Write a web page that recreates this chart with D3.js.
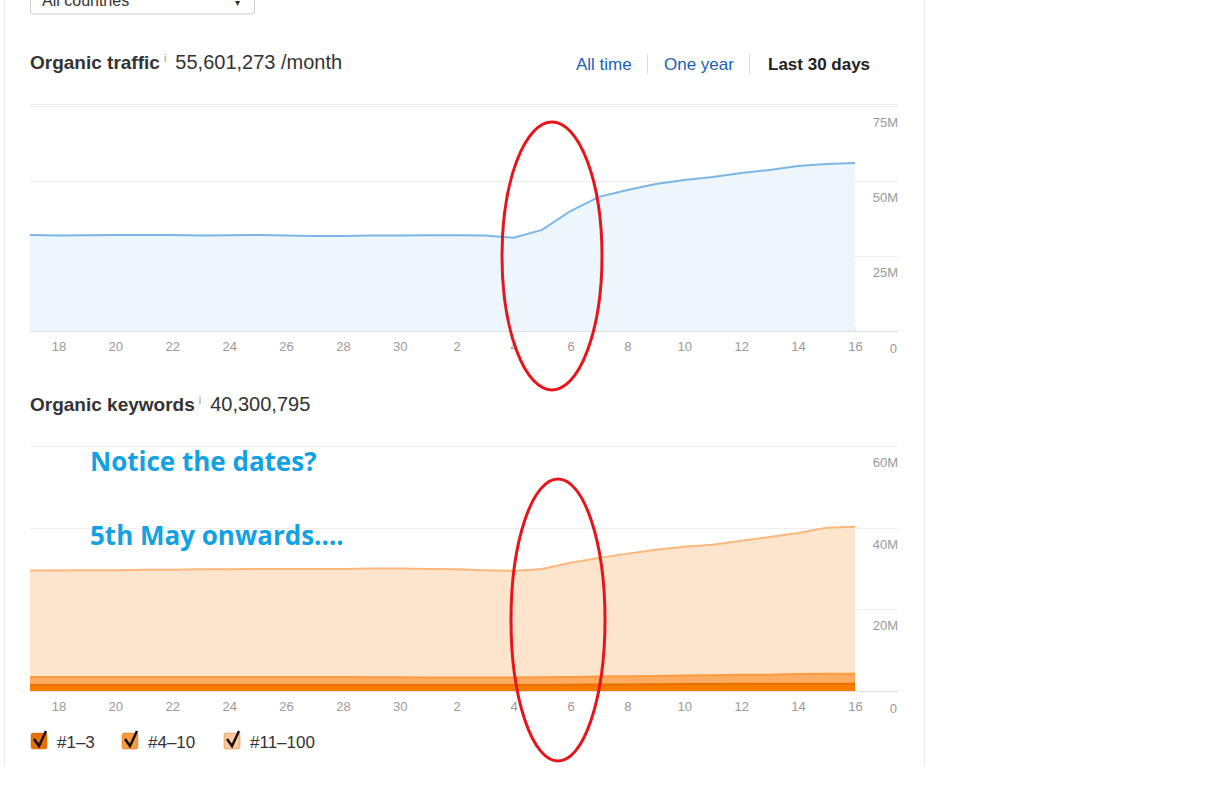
<!DOCTYPE html>
<html><head><meta charset="utf-8">
<script src="https://cdn.jsdelivr.net/npm/d3@7"></script>
<style>body{margin:0;background:#fff;font-family:Arial,"Liberation Sans",sans-serif}</style>
</head><body><svg id="c" width="1228" height="786"></svg>
<script>
// Dates: Apr 17 .. May 16
const days = d3.range(0,30).map(i => new Date(2018,3,17+i));
const tickLabels = ["18","20","22","24","26","28","30","2","4","6","8","10","12","14","16"];
const traffic = [32,31.8,31.9,32,32,32,31.8,31.9,32,31.8,31.7,31.7,31.8,31.8,31.9,31.9,31.8,31.1,33.7,40,44.7,47,49,50.3,51.3,52.7,53.7,55,55.7,56];
const kwTop3 = [1.5,1.5,1.5,1.5,1.5,1.5,1.5,1.5,1.5,1.5,1.5,1.5,1.5,1.5,1.5,1.5,1.5,1.5,1.5,1.55,1.6,1.6,1.65,1.7,1.7,1.75,1.75,1.8,1.8,1.8];
const kw4to10 = [1.9,1.9,1.9,1.9,1.9,1.9,1.9,1.9,1.9,1.9,1.9,1.9,1.85,1.85,1.8,1.8,1.8,1.8,1.85,1.9,1.95,2.0,2.05,2.1,2.15,2.2,2.25,2.35,2.4,2.4];
const kwTotal = [29.5,29.5,29.6,29.6,29.7,29.7,29.8,29.8,29.9,29.9,29.9,29.9,30,30,29.9,29.8,29.6,29.4,29.9,31.4,32.6,33.6,34.6,35.3,35.8,36.8,37.7,38.7,40,40.2];
const yTicks1 = [25,50,75], yTicks2 = [20,40,60];

const svg = d3.select("#c");
svg.append("line").attr("x1",4.5).attr("x2",4.5).attr("y1",0).attr("y2",766).attr("stroke","#e6e6e6");
svg.append("line").attr("x1",924.5).attr("x2",924.5).attr("y1",0).attr("y2",766).attr("stroke","#e6e6e6");
svg.append("rect").attr("x",30.5).attr("y",-10).attr("width",224).attr("height",24).attr("rx",3).attr("fill","#fff").attr("stroke","#ccc");
svg.append("text").attr("x",42).attr("y",6).attr("font-size",16).attr("fill","#333").text("All countries");
svg.append("text").attr("x",235).attr("y",6).attr("font-size",10).attr("fill","#333").text("▾");

function header(y, title, val){
  const t = svg.append("text").attr("x",30).attr("y",y).attr("font-size",20).attr("fill","#333");
  t.append("tspan").attr("font-weight","bold").attr("font-size",19).text(title);
  t.append("tspan").attr("font-size",11).attr("fill","#999").attr("dx",4).attr("dy",-7).text("i");
  t.append("tspan").attr("dx",9).attr("dy",7).text(val);
}
header(69,"Organic traffic","55,601,273 /month");
header(411,"Organic keywords","40,300,795");
[["All time",576,"#1a5fb4",false],["One year",664,"#1a5fb4",false],["Last 30 days",768,"#222",true]].forEach(d=>{
  svg.append("text").attr("x",d[1]).attr("y",70).attr("font-size",17).attr("fill",d[2]).attr("font-weight",d[3]?"bold":"normal").text(d[0]);
});
[647.5,749.5].forEach(x=>svg.append("line").attr("x1",x).attr("x2",x).attr("y1",54).attr("y2",74).attr("stroke","#ddd"));

const x = d3.scaleTime().domain([days[0],days[29]]).range([30,855]);
const tickDates = days.filter((d,i)=>i%2===1);

function axes(y, ticks, y0, ytop){
  svg.append("g").selectAll("line").data(ticks).join("line")
    .attr("x1",30).attr("x2",898).attr("y1",d=>Math.round(y(d))+0.5).attr("y2",d=>Math.round(y(d))+0.5).attr("stroke","#eee");
  svg.append("line").attr("x1",30).attr("x2",898).attr("y1",ytop+0.5).attr("y2",ytop+0.5).attr("stroke","#eee");
  svg.append("g").selectAll("text").data(ticks).join("text").attr("x",898).attr("y",d=>y(d)+21)
    .attr("text-anchor","end").attr("font-size",13).attr("fill","#999").text(d=>d+"M");
  const g = svg.append("g").attr("transform",`translate(0,${y0})`)
    .call(d3.axisBottom(x).tickValues(tickDates).tickSize(0).tickPadding(11).tickFormat((d,i)=>tickLabels[i]));
  g.select(".domain").remove();
  g.selectAll("text").attr("font-size",13).attr("fill","#999").attr("font-family","Arial,sans-serif");
  svg.append("line").attr("x1",30).attr("x2",898).attr("y1",y0+0.5).attr("y2",y0+0.5).attr("stroke","#ddd");
  svg.append("g").selectAll("line").data(tickDates).join("line").attr("x1",d=>x(d)).attr("x2",d=>x(d))
    .attr("y1",y0-4).attr("y2",y0).attr("stroke","#ccc");
  svg.append("text").attr("x",897).attr("y",y0+22).attr("text-anchor","end").attr("font-size",13).attr("fill","#999").text("0");
}

// top
const y1 = d3.scaleLinear().domain([0,75]).range([331,106]);
axes(y1,yTicks1,331,104);
svg.append("path").datum(traffic).attr("fill","#eef6fd")
  .attr("d",d3.area().x((d,i)=>x(days[i])).y0(y1(0)).y1(d=>y1(d)));
svg.append("path").datum(traffic).attr("fill","none").attr("stroke","#7ab6e6").attr("stroke-width",2)
  .attr("d",d3.line().x((d,i)=>x(days[i])).y(d=>y1(d)));

// bottom
const y2 = d3.scaleLinear().domain([0,60]).range([691,446]);
axes(y2,yTicks2,691,446);
const layers = [
  {top: kwTotal, bot: kwTop3.map((v,i)=>v+kw4to10[i]), fill:"#fde4cc", stroke:"#fdb77a"},
  {top: kwTop3.map((v,i)=>v+kw4to10[i]), bot: kwTop3, fill:"#fdac62", stroke:"#fb9a3e"},
  {top: kwTop3, bot: kwTop3.map(()=>0), fill:"#f57c00", stroke:"#e86f00"}
];
layers.forEach(L=>{
  svg.append("path").datum(d3.range(30)).attr("fill",L.fill)
    .attr("d",d3.area().x(i=>x(days[i])).y0(i=>y2(L.bot[i])).y1(i=>y2(L.top[i])));
  svg.append("path").datum(d3.range(30)).attr("fill","none").attr("stroke",L.stroke).attr("stroke-width",2)
    .attr("d",d3.line().x(i=>x(days[i])).y(i=>y2(L.top[i])));
});

// legend
[["#1–3","#e86f00",30],["#4–10","#fb9a3e",121],["#11–100","#fdc99a",223]].forEach(d=>{
  svg.append("rect").attr("x",d[2]+1).attr("y",733).attr("width",16).attr("height",16).attr("rx",2).attr("fill",d[1]).attr("stroke","#c86000").attr("stroke-opacity",0.4);
  svg.append("path").attr("d",`M${d[2]+4},739 L${d[2]+9},746 L${d[2]+16},731`).attr("fill","none").attr("stroke","#111").attr("stroke-width",2.5);
  svg.append("text").attr("x",d[2]+27).attr("y",748).attr("font-size",17).attr("fill","#333").text(d[0]);
});

// annotations
[["Notice the dates?",471],["5th May onwards....",545]].forEach(d=>{
  svg.append("text").attr("x",90).attr("y",d[1]).attr("font-size",26).attr("font-weight","bold")
    .attr("font-family","'Open Sans',sans-serif").attr("fill","#12a1e3").text(d[0]);
});
svg.append("ellipse").attr("cx",552).attr("cy",256).attr("rx",50).attr("ry",134).attr("fill","none").attr("stroke","#e8141c").attr("stroke-width",3);
svg.append("ellipse").attr("cx",558).attr("cy",620).attr("rx",47).attr("ry",141).attr("fill","none").attr("stroke","#e8141c").attr("stroke-width",3);
</script></body></html>
